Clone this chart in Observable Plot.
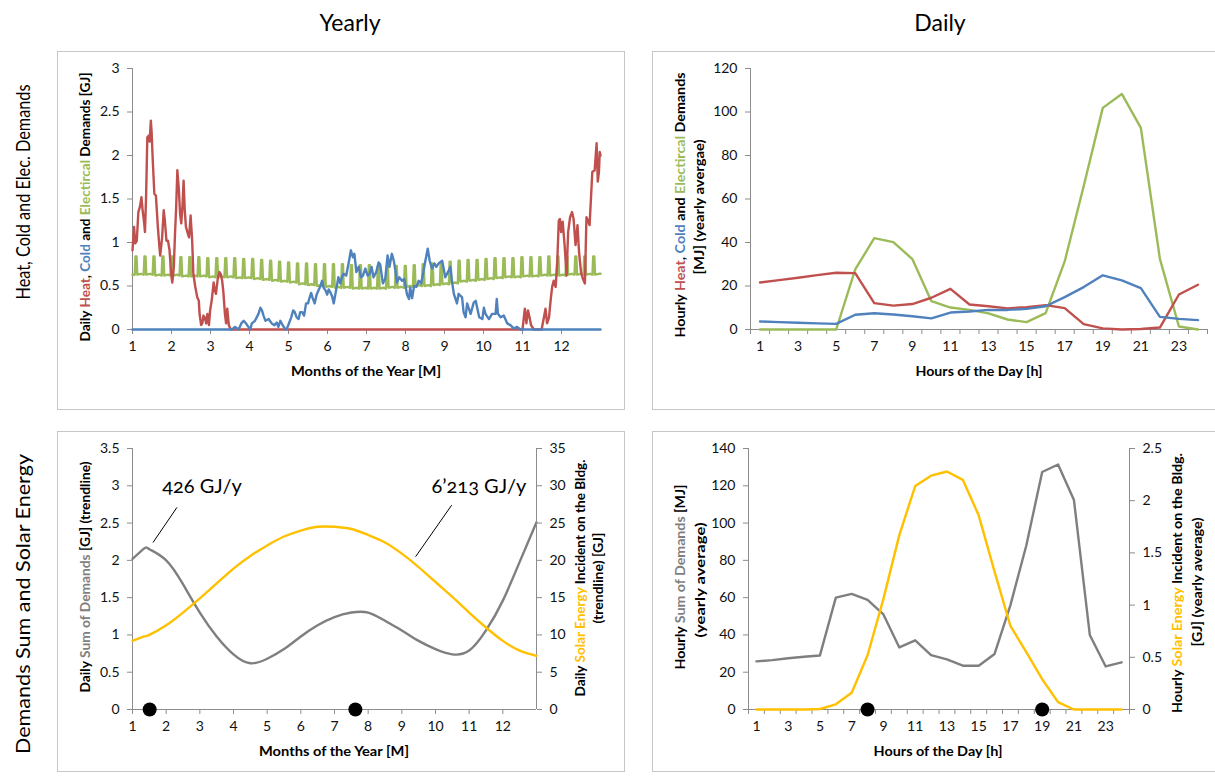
<!DOCTYPE html>
<html><head><meta charset="utf-8">
<script src="https://cdn.jsdelivr.net/npm/d3@7"></script>
<script src="https://cdn.jsdelivr.net/npm/@observablehq/plot@0.6"></script>
<style>
body{margin:0;background:#fff;}
#wrap{position:relative;width:1215px;height:778px;overflow:hidden;background:#fff;font-family:Lato,"Open Sans",sans-serif;}
.frame{position:absolute;border:1px solid #c6c6c6;box-sizing:border-box;}
text{white-space:pre;}
</style></head><body><div id="wrap"></div><script>
// ---------- DATA ----------
const monthTicks = [1,2,3,4,5,6,7,8,9,10,11,12];
const hours = [1,2,3,4,5,6,7,8,9,10,11,12,13,14,15,16,17,18,19,20,21,22,23,24];
const hourLabels = [1,3,5,7,9,11,13,15,17,19,21,23];
const hourBounds = [0.5,1.5,2.5,3.5,4.5,5.5,6.5,7.5,8.5,9.5,10.5,11.5,12.5,13.5,14.5,15.5,16.5,17.5,18.5,19.5,20.5,21.5,22.5,23.5,24.5];
const yTicksTL = [0,0.5,1,1.5,2,2.5,3];
const yTicksTR = [0,20,40,60,80,100,120];
const yTicksBL = [0,0.5,1,1.5,2,2.5,3,3.5];
const yTicksBLr = [0,5,10,15,20,25,30,35];
const yTicksBR = [0,20,40,60,80,100,120,140];
const yTicksBRr = [0,0.5,1,1.5,2,2.5];

// Daily heat demand [GJ] (month position, value)
const heatYear = [[1.00,0.91],[1.04,1.18],[1.07,0.99],[1.11,1.02],[1.15,1.35],[1.19,1.41],[1.23,1.52],[1.26,1.37],[1.30,1.22],[1.32,1.12],[1.35,1.56],[1.38,2.21],[1.42,2.23],[1.44,2.16],[1.47,2.40],[1.49,2.27],[1.52,1.94],[1.56,1.56],[1.60,1.54],[1.65,1.18],[1.69,0.95],[1.71,0.85],[1.76,1.06],[1.80,1.37],[1.83,1.25],[1.87,1.02],[1.91,1.02],[1.95,0.91],[1.99,0.64],[2.02,0.54],[2.06,0.72],[2.09,1.10],[2.12,1.41],[2.15,1.83],[2.19,1.60],[2.22,1.33],[2.25,1.22],[2.28,1.41],[2.31,1.71],[2.34,1.37],[2.37,1.18],[2.42,1.10],[2.45,1.06],[2.49,1.31],[2.53,1.02],[2.56,0.64],[2.61,0.49],[2.66,0.37],[2.70,0.33],[2.72,0.18],[2.76,0.05],[2.79,0.07],[2.82,0.16],[2.85,0.14],[2.89,0.07],[2.92,0.18],[2.96,0.05],[2.99,0.22],[3.03,0.33],[3.08,0.54],[3.11,0.45],[3.14,0.41],[3.19,0.60],[3.23,0.66],[3.26,0.64],[3.30,0.56],[3.33,0.43],[3.37,0.18],[3.40,0.07],[3.43,0.24],[3.47,0.05],[3.52,0],[11.00,0],[11.06,0.24],[11.10,0.07],[11.14,0.22],[11.18,0.14],[11.22,0.05],[11.29,0],[11.49,0],[11.55,0.14],[11.59,0.24],[11.63,0.07],[11.68,0.14],[11.72,0.33],[11.76,0.49],[11.80,0.56],[11.85,0.49],[11.89,0.76],[11.93,1.25],[11.96,1.27],[11.99,1.12],[12.03,1.24],[12.08,0.97],[12.13,0.62],[12.17,1.12],[12.22,1.29],[12.27,1.35],[12.31,1.27],[12.36,0.97],[12.41,1.20],[12.45,0.89],[12.50,0.66],[12.55,0.58],[12.60,0.53],[12.64,1.29],[12.68,1.25],[12.72,1.20],[12.79,1.81],[12.85,1.83],[12.90,2.14],[12.93,1.70],[12.96,1.81],[12.98,2.04],[13.00,2.00]];

// Daily cold demand [GJ]
const coldYear = [[1.00,0],[3.55,0],[3.63,0.03],[3.72,0],[3.79,0.07],[3.85,0.10],[3.91,0.07],[3.97,0.03],[4.02,0],[4.06,0.07],[4.14,0.10],[4.23,0.18],[4.28,0.25],[4.32,0.22],[4.36,0.16],[4.41,0.10],[4.49,0.12],[4.57,0.07],[4.64,0.05],[4.70,0.08],[4.74,0.03],[4.79,0.10],[4.85,0.05],[4.92,0],[4.96,0.01],[5.02,0.08],[5.07,0.14],[5.12,0.22],[5.16,0.20],[5.21,0.14],[5.26,0.12],[5.30,0.20],[5.35,0.20],[5.40,0.16],[5.45,0.30],[5.50,0.30],[5.53,0.35],[5.58,0.42],[5.62,0.36],[5.67,0.30],[5.72,0.40],[5.77,0.45],[5.82,0.50],[5.86,0.56],[5.90,0.48],[5.95,0.45],[5.99,0.40],[6.03,0.46],[6.07,0.43],[6.12,0.38],[6.16,0.30],[6.22,0.45],[6.28,0.60],[6.33,0.53],[6.37,0.60],[6.41,0.64],[6.48,0.62],[6.54,0.76],[6.60,0.91],[6.65,0.83],[6.69,0.87],[6.74,0.66],[6.80,0.72],[6.86,0.60],[6.91,0.62],[6.97,0.70],[7.03,0.62],[7.08,0.64],[7.13,0.72],[7.18,0.60],[7.25,0.66],[7.31,0.77],[7.35,0.75],[7.42,0.53],[7.48,0.58],[7.54,0.85],[7.59,0.72],[7.65,0.87],[7.70,0.79],[7.74,0.68],[7.78,0.54],[7.84,0.60],[7.91,0.56],[7.97,0.58],[8.04,0.40],[8.09,0.35],[8.12,0.48],[8.17,0.36],[8.22,0.50],[8.28,0.49],[8.34,0.56],[8.40,0.53],[8.45,0.64],[8.51,0.79],[8.57,0.93],[8.62,0.79],[8.68,0.70],[8.74,0.76],[8.79,0.72],[8.85,0.76],[8.94,0.79],[9.02,0.60],[9.11,0.68],[9.15,0.72],[9.19,0.56],[9.24,0.41],[9.32,0.30],[9.36,0.41],[9.45,0.37],[9.49,0.20],[9.54,0.14],[9.58,0.30],[9.67,0.18],[9.75,0.31],[9.80,0.33],[9.89,0.14],[9.97,0.12],[10.01,0.25],[10.05,0.18],[10.14,0.12],[10.22,0.18],[10.31,0.18],[10.34,0.35],[10.37,0.18],[10.44,0.14],[10.52,0.16],[10.61,0.07],[10.69,0.05],[10.78,0.01],[10.86,0.03],[10.95,0],[13.00,0]];

// Daily electrical demand [GJ]: weekly peak and weekly base level (52 weeks)
const elecPeak = [0.84,0.84,0.84,0.84,0.84,0.83,0.83,0.83,0.82,0.82,0.82,0.82,0.81,0.81,0.80,0.79,0.78,0.77,0.76,0.76,0.75,0.75,0.75,0.75,0.74,0.74,0.74,0.73,0.73,0.73,0.73,0.74,0.75,0.76,0.77,0.78,0.79,0.80,0.80,0.81,0.82,0.82,0.82,0.83,0.83,0.83,0.84,0.84,0.84,0.84,0.84,0.84];
const elecBase = [0.63,0.63,0.62,0.62,0.62,0.61,0.61,0.61,0.60,0.60,0.60,0.59,0.59,0.58,0.57,0.56,0.55,0.54,0.52,0.51,0.50,0.49,0.48,0.48,0.47,0.47,0.47,0.47,0.48,0.48,0.49,0.50,0.50,0.51,0.52,0.53,0.55,0.56,0.57,0.58,0.59,0.60,0.60,0.61,0.61,0.62,0.62,0.62,0.63,0.63,0.63,0.63];
const elecStart = 0.63, elecEnd = 0.64;

// Hourly values (yearly average) [MJ]
const hourlyHeat = [21.6,22.7,23.8,25.0,26.1,25.9,12.1,11.0,11.7,14.6,18.7,11.5,10.7,9.7,10.3,11.2,9.8,2.5,0.5,0.0,0.2,0.9,16.1,20.6];
const hourlyCold = [3.7,3.4,3.1,2.8,2.6,6.8,7.5,6.9,6.1,5.1,7.8,8.3,9.0,9.0,9.5,10.7,14.9,19.5,24.9,22.6,19.0,5.8,4.9,4.3];
const hourlyElec = [0,0,0,0,0,27.6,42.0,40.2,32.4,13.0,10.1,9.0,7.4,4.6,3.4,7.5,31.3,66.0,101.9,108.3,92.7,32.5,1.4,0];
const hourlySum = [25.8,26.5,27.5,28.3,29.0,60.0,62.0,58.8,51.0,33.3,37.1,29.2,26.9,23.5,23.5,29.8,56.0,88.0,127.4,131.4,112.4,40.0,23.1,25.3];
const hourlySolar = [0,0,0,0,0.005,0.05,0.16,0.52,1.06,1.67,2.14,2.24,2.28,2.20,1.86,1.32,0.80,0.55,0.29,0.07,0,0,0,0];

// Yearly trendlines
const trendMonths = [1,1.35,1.5,2,2.5,3,3.5,4,4.5,5,5.5,6,6.5,7,7.5,8,8.5,9,9.5,10,10.5,11,11.5,12,12.5,13];
const sumTrend =   [2.02,2.16,2.15,2.00,1.68,1.30,0.98,0.74,0.62,0.68,0.81,0.98,1.13,1.24,1.30,1.30,1.19,1.06,0.92,0.81,0.74,0.79,1.06,1.46,1.98,2.51];
const solarTrend = [9.2,9.8,10.0,11.3,13.0,14.9,16.9,18.9,20.6,22.0,23.2,24.0,24.5,24.5,24.2,23.4,22.4,20.9,19.1,17.1,15.1,13.0,11.0,9.2,7.9,7.2];

// Peak markers
const yearMarkers = [1.51, 7.62];
const dayMarkers = [8, 19];

// Annotations (bottom-left)
const annText = [{m:1.88, v:2.90, t:"426 GJ/y"},{m:9.88, v:2.90, t:"6\u2019213 GJ/y"}];
const annLines = [{m1:1.61,v1:2.24,m2:2.32,v2:2.71},{m1:9.41,v1:2.05,m2:10.48,v2:2.74}];

// ---------- BUILD ----------
const wrap = document.getElementById("wrap");
const FONT = "Lato, 'Open Sans', sans-serif";
const AX = "#8c8c8c";
const C = {heat:"#C0504D", cold:"#4F81BD", elec:"#9BBB59", sum:"#7F7F7F", solar:"#FFC000"};
const fmt = d => String(d);

function frame(l,t,w,h){const d=document.createElement("div");d.className="frame";Object.assign(d.style,{left:l+"px",top:t+"px",width:w+"px",height:h+"px"});wrap.append(d);}
frame(57,51,568,359); frame(652,51,600,359); frame(57,431,568,341); frame(652,431,600,341);

const M = 50;
function mk(area, opts){
  const [x0,y0,x1,y1] = area;
  const p = Plot.plot({width:x1-x0+2*M, height:y1-y0+2*M, marginLeft:M, marginRight:M, marginTop:M, marginBottom:M,
    style:{background:"transparent", fontFamily:FONT, fontSize:"14px", color:"#111", overflow:"visible"}, ...opts});
  p.style.position="absolute"; p.style.left=(x0-M)+"px"; p.style.top=(y0-M)+"px";
  wrap.append(p);
}

// electrical series points
const elecPts = [[1.0, elecStart]];
const day = 12/365;
elecPeak.forEach((pk,k)=>{
  const t = 1.09 + k*7*day;
  const prevBase = k===0 ? elecStart : elecBase[k-1];
  elecPts.push([t-1.0*day, prevBase],[t-0.4*day, pk],[t+0.4*day, pk],[t+1.0*day, elecBase[k]],[t+4*day, elecBase[k]+0.01]);
});
elecPts.push([13.0, elecEnd]);

const axL = (ticks) => Plot.axisY({ticks, tickSize:5, tickPadding:8, stroke:AX, fill:"#111", label:null, tickFormat:fmt});
const axR = (ticks) => Plot.axisY({ticks, anchor:"right", tickSize:5, tickPadding:8, stroke:AX, fill:"#111", label:null, tickFormat:fmt});

// Top-left: yearly demands
mk([132,68,600,329], {
  x:{domain:[1,13]}, y:{domain:[0,3]},
  marks:[
    Plot.ruleX([1],{stroke:AX}), Plot.ruleY([0],{stroke:AX}),
    axL(yTicksTL),
    Plot.axisX({ticks:monthTicks, tickSize:5, tickPadding:7, stroke:AX, fill:"#111", label:null, tickFormat:fmt}),
    Plot.line(elecPts,{x:d=>d[0], y:d=>d[1], stroke:C.elec, strokeWidth:2.4}),
    Plot.line(heatYear,{x:d=>d[0], y:d=>d[1], stroke:C.heat, strokeWidth:2.4}),
    Plot.line(coldYear,{x:d=>d[0], y:d=>d[1], stroke:C.cold, strokeWidth:2.4})
  ]});

// Top-right: daily demands
const hx = (arr) => hours.map((h,i)=>({h, v:arr[i]}));
mk([750,68,1207,329], {
  x:{domain:[0.5,24.5]}, y:{domain:[0,120]},
  marks:[
    Plot.ruleX([0.5],{stroke:AX}), Plot.ruleY([0],{stroke:AX}),
    axL(yTicksTR),
    Plot.axisX({ticks:hourBounds, tickSize:5, stroke:AX, label:null, tickFormat:()=>""}),
    Plot.axisX({ticks:hourLabels, tickSize:0, tickPadding:12, fill:"#111", label:null, tickFormat:fmt}),
    Plot.line(hx(hourlyElec),{x:"h", y:"v", stroke:C.elec, strokeWidth:2.4}),
    Plot.line(hx(hourlyHeat),{x:"h", y:"v", stroke:C.heat, strokeWidth:2.4}),
    Plot.line(hx(hourlyCold),{x:"h", y:"v", stroke:C.cold, strokeWidth:2.4})
  ]});

// Bottom-left: yearly trendlines
const BL = [132,448,536,709];
mk(BL, {
  x:{domain:[1,13]}, y:{domain:[0,3.5]},
  marks:[
    Plot.ruleX([1],{stroke:AX}), Plot.ruleY([0],{stroke:AX}),
    axL(yTicksBL),
    Plot.axisX({ticks:monthTicks, tickSize:5, tickPadding:7, stroke:AX, fill:"#111", label:null, tickFormat:fmt}),
    Plot.line(trendMonths.map((m,i)=>({m, v:sumTrend[i]})),{x:"m", y:"v", stroke:C.sum, strokeWidth:2.4, curve:"natural"}),
    Plot.link(annLines,{x1:"m1", y1:"v1", x2:"m2", y2:"v2", stroke:"#000", strokeWidth:1}),
    Plot.text(annText,{x:"m", y:"v", text:"t", textAnchor:"start", lineAnchor:"bottom", fontSize:20, fill:"#000", fontVariant:"oldstyle-nums"})
  ]});
mk(BL, {
  x:{domain:[1,13], axis:null}, y:{domain:[0,35]},
  marks:[
    Plot.ruleX([13],{stroke:AX}),
    axR(yTicksBLr),
    Plot.line(trendMonths.map((m,i)=>({m, v:solarTrend[i]})),{x:"m", y:"v", stroke:C.solar, strokeWidth:2.4, curve:"natural"}),
    Plot.dot(yearMarkers.map(m=>({m, v:0})),{x:"m", y:"v", r:7, fill:"#000"})
  ]});

// Bottom-right: hourly sum and solar
const BR = [748,448,1129,709];
mk(BR, {
  x:{domain:[0.5,24.5]}, y:{domain:[0,140]},
  marks:[
    Plot.ruleX([0.5],{stroke:AX}), Plot.ruleY([0],{stroke:AX}),
    axL(yTicksBR),
    Plot.axisX({ticks:hourBounds, tickSize:5, stroke:AX, label:null, tickFormat:()=>""}),
    Plot.axisX({ticks:hourLabels, tickSize:0, tickPadding:12, fill:"#111", label:null, tickFormat:fmt}),
    Plot.line(hx(hourlySum),{x:"h", y:"v", stroke:C.sum, strokeWidth:2.4})
  ]});
mk(BR, {
  x:{domain:[0.5,24.5], axis:null}, y:{domain:[0,2.5]},
  marks:[
    Plot.ruleX([24.5],{stroke:AX}),
    axR(yTicksBRr),
    Plot.line(hx(hourlySolar),{x:"h", y:"v", stroke:C.solar, strokeWidth:2.4}),
    Plot.dot(dayMarkers.map(h=>({h, v:0})),{x:"h", y:"v", r:7, fill:"#000"})
  ]});

// ---------- TEXT OVERLAY ----------
const svg = d3.create("svg").attr("width",1215).attr("height",778)
  .style("position","absolute").style("left","0px").style("top","0px").style("font-family",FONT);
function txt(x,y,parts,{size=13,weight="bold",rot=true,len=null}={}){
  const t = svg.append("text").attr("transform",`translate(${x},${y})`+(rot?" rotate(-90)":""))
    .attr("text-anchor","middle").attr("font-size",size).attr("font-weight",weight).attr("fill","#000");
  if(len) t.attr("textLength",len).attr("lengthAdjust","spacingAndGlyphs");
  for(const [s,c] of parts) t.append("tspan").attr("fill",c).text(s);
}
const K="#000";
txt(350,31,[["Yearly",K]],{size:23,weight:"normal",rot:false});
txt(940,31,[["Daily",K]],{size:23,weight:"normal",rot:false});
txt(30,192,[["Heat, Cold and Elec. Demands",K]],{size:20,weight:"normal",len:215});
txt(30,604,[["Demands Sum and Solar Energy",K]],{size:20,weight:"normal",len:300});

txt(90,207,[["Daily ",K],["Heat",C.heat],[", ",K],["Cold",C.cold],[" and ",K],["Electircal",C.elec],[" Demands [GJ]",K]],{len:269});
txt(685,205,[["Hourly ",K],["Heat",C.heat],[", ",K],["Cold",C.cold],[" and ",K],["Electircal",C.elec],[" Demands",K]],{len:265});
txt(704,207,[["[MJ] (yearly avergae)",K]],{len:135});
txt(90,577,[["Daily ",K],["Sum of Demands",C.sum],[" [GJ] (trendline)",K]],{len:231});
txt(585,578,[["Daily ",K],["Solar Energy",C.solar],[" Incident on the Bldg.",K]],{len:237});
txt(603,578,[["(trendline) [GJ]",K]],{len:91});
txt(685,577,[["Hourly ",K],["Sum of Demands",C.sum],[" [MJ]",K]],{len:185});
txt(705,580,[["(yearly average)",K]],{len:115});
txt(1182,583,[["Hourly ",K],["Solar Energy",C.solar],[" Incident on the Bldg.",K]],{len:260});
txt(1202,582,[["[GJ] (yearly average)",K]],{len:129});

txt(366,376,[["Months of the Year [M]",K]],{rot:false,len:150});
txt(979,376,[["Hours of the Day [h]",K]],{rot:false,len:127});
txt(334,756,[["Months of the Year [M]",K]],{rot:false,len:150});
txt(938,756,[["Hours of the Day [h]",K]],{rot:false,len:129});
wrap.append(svg.node());
</script></body></html>
